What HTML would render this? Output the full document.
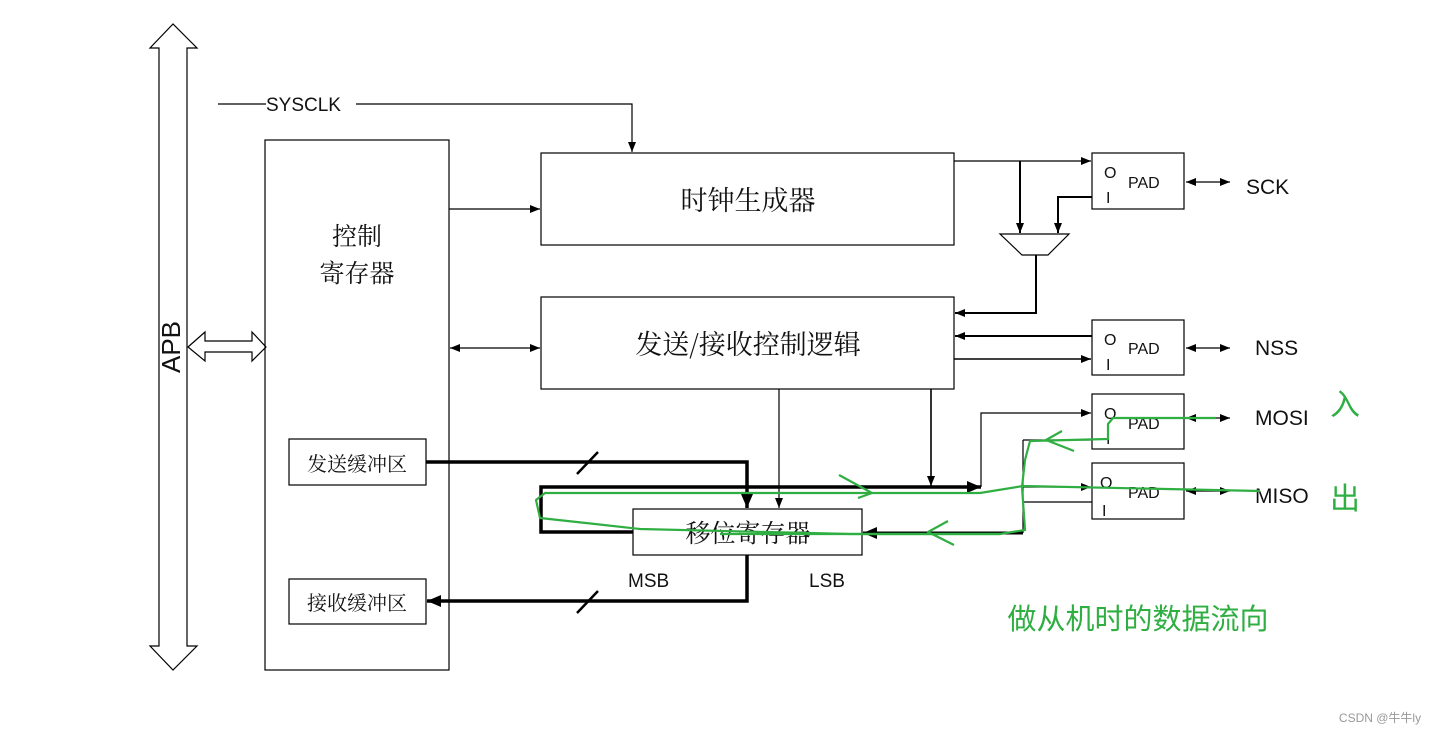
<!DOCTYPE html>
<html><head><meta charset="utf-8"><style>
html,body{margin:0;padding:0;background:#fff;}
svg{display:block;}
text{font-family:"Liberation Sans","Noto Sans CJK SC",sans-serif;fill:#111;}
.cn{font-family:"Noto Serif CJK SC","Noto Sans CJK SC",serif;}
</style></head><body>
<svg width="1434" height="735" viewBox="0 0 1434 735" xmlns="http://www.w3.org/2000/svg">
<defs>
<marker id="a" markerWidth="10" markerHeight="8" refX="10" refY="4" orient="auto" markerUnits="userSpaceOnUse"><path d="M0,0 L10,4 L0,8z" fill="#000"/></marker>
<marker id="as" markerWidth="10" markerHeight="8" refX="0" refY="4" orient="auto" markerUnits="userSpaceOnUse"><path d="M10,0 L0,4 L10,8z" fill="#000"/></marker>
<marker id="b" markerWidth="14" markerHeight="12" refX="14" refY="6" orient="auto" markerUnits="userSpaceOnUse"><path d="M0,0 L14,6 L0,12z" fill="#000"/></marker>
</defs>
<g fill="none" stroke="#000" stroke-width="1.2">
<!-- APB -->
<path d="M159,48 L150,48 L173,24 L197,48 L187,48 L187,646 L197,646 L173,670 L150,646 L159,646 Z"/>
<!-- hollow double arrow -->
<path d="M188,347 L205,332 L205,341 L252,341 L252,332 L266,347 L252,361 L252,352 L205,352 L205,361 Z"/>
<rect x="265" y="140" width="184" height="530"/>
<rect x="541" y="153" width="413" height="92"/>
<rect x="541" y="297" width="413" height="92"/>
<rect x="1092" y="153" width="92" height="56"/>
<rect x="1092" y="320" width="92" height="55"/>
<rect x="1092" y="394" width="92" height="55"/>
<rect x="1092" y="463" width="92" height="56"/>
<rect x="289" y="439" width="137" height="46"/>
<rect x="289" y="579" width="137" height="45"/>
<rect x="633" y="509" width="229" height="46"/>
<path d="M218,104 L266,104 M356,104 L632,104 L632,152" marker-end="url(#a)"/>
<path d="M449,209 L540,209" marker-end="url(#a)"/>
<path d="M450,348 L540,348" marker-start="url(#as)" marker-end="url(#a)"/>
<path d="M954,161 L1091,161" marker-end="url(#a)"/>
<path d="M1020,161 L1020,233" marker-end="url(#a)" stroke-width="2"/>
<path d="M1092,197 L1058,197 L1058,233" marker-end="url(#a)" stroke-width="2"/>
<path d="M1000,234 L1069,234 L1048,255 L1022,255 Z"/>
<path d="M1036,255 L1036,313 L955,313" marker-end="url(#a)" stroke-width="2"/>
<path d="M1092,336 L955,336" marker-end="url(#a)" stroke-width="2"/>
<path d="M954,359 L1091,359" marker-end="url(#a)" stroke-width="1.6"/>
<path d="M1186,182 L1230,182" marker-start="url(#as)" marker-end="url(#a)"/>
<path d="M1186,348 L1230,348" marker-start="url(#as)" marker-end="url(#a)"/>
<path d="M1186,418 L1230,418" marker-start="url(#as)" marker-end="url(#a)"/>
<path d="M1186,491 L1230,491" marker-start="url(#as)" marker-end="url(#a)"/>
<path d="M981,487 L981,413 L1091,413" marker-end="url(#a)"/>
<path d="M1023,487 L1091,487" marker-end="url(#a)"/>
<path d="M1023,440 L1092,440 M1023,440 L1023,533 M1023,502 L1092,502"/>
<path d="M1023,533 L863,533" marker-end="url(#b)" stroke-width="3"/>
<path d="M931,389 L931,486" marker-end="url(#a)" stroke-width="1.6"/>
<path d="M779,389 L779,508" marker-end="url(#a)"/>
<path d="M633,532 L541,532 L541,487 L981,487" marker-end="url(#b)" stroke-width="3.5"/>
<path d="M426,462 L747,462 L747,508" marker-end="url(#b)" stroke-width="3.5"/>
<path d="M747,555 L747,601 L427,601" marker-end="url(#b)" stroke-width="3.5"/>
<path d="M577,474 L598,452 M577,613 L598,591" stroke-width="2.5"/>
</g>
<text x="173" y="347" font-size="26" text-anchor="middle" transform="rotate(-90 173 347)" dominant-baseline="middle">APB</text>
<text x="266" y="111" font-size="19">SYSCLK</text>
<text class="cn" x="357" y="245" font-size="25" text-anchor="middle">控制</text>
<text class="cn" x="357" y="282" font-size="25" text-anchor="middle">寄存器</text>
<text class="cn" x="748" y="210" font-size="27" text-anchor="middle">时钟生成器</text>
<text class="cn" x="748" y="354" font-size="27" text-anchor="middle">发送/接收控制逻辑</text>
<text class="cn" x="357" y="471" font-size="20" text-anchor="middle">发送缓冲区</text>
<text class="cn" x="357" y="610" font-size="20" text-anchor="middle">接收缓冲区</text>
<text class="cn" x="748" y="542" font-size="25" text-anchor="middle">移位寄存器</text>
<text x="628" y="587" font-size="19">MSB</text>
<text x="809" y="587" font-size="19">LSB</text>
<g font-size="16"><text x="1104" y="178">O</text><text x="1106" y="203">I</text><text x="1128" y="188">PAD</text>
<text x="1104" y="345">O</text><text x="1106" y="370">I</text><text x="1128" y="354">PAD</text>
<text x="1104" y="419">O</text><text x="1106" y="444">I</text><text x="1128" y="429">PAD</text>
<text x="1100" y="488">O</text><text x="1102" y="516">I</text><text x="1128" y="498">PAD</text></g>
<g font-size="21"><text x="1246" y="194">SCK</text><text x="1255" y="355">NSS</text><text x="1255" y="425">MOSI</text><text x="1255" y="503">MISO</text></g>
<g fill="none" stroke="#2fae42" stroke-width="2.2" stroke-linejoin="round">
<path d="M1216,418 L1113,418 L1108,424 L1108,439 L1030,441 L1025,460 L1022,487 L1025,530 L1000,534 L850,534 L640,529 L595,524 L540,518 L536,500 L545,493 L980,493 L1023,486 L1260,491"/>
<path d="M1000,534 L720,534 M1062,431 L1046,440 L1074,451 M948,521 L928,532 L954,545 M839,475 L872,493 L858,498"/>
</g>
<g fill="#2fae42" font-family="Noto Sans CJK SC,sans-serif">
<text x="1138" y="629" font-size="29" text-anchor="middle" style="fill:#2fae42">做从机时的数据流向</text>
<text x="1345" y="415" font-size="30" text-anchor="middle" style="fill:#2fae42">入</text>
<text x="1345" y="509" font-size="30" text-anchor="middle" style="fill:#2fae42">出</text>
</g>
<text x="1380" y="722" font-size="12" text-anchor="middle" style="fill:#999">CSDN @牛牛ly</text>
</svg>
</body></html>
